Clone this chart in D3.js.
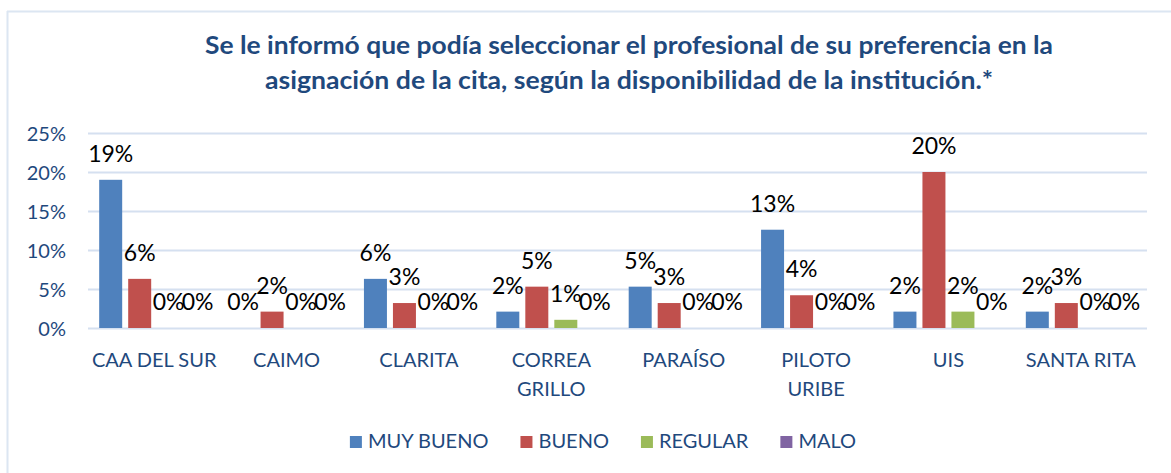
<!DOCTYPE html>
<html>
<head>
<meta charset="utf-8">
<script src="https://cdn.jsdelivr.net/npm/d3@7"></script>
<style>
  body { margin: 0; background: #fff; }
  text { font-family: Lato, "Open Sans", sans-serif; }
</style>
</head>
<body>
<script>
var categories = ['CAA DEL SUR', 'CAIMO', 'CLARITA', 'CORREA GRILLO', 'PARAÍSO', 'PILOTO URIBE', 'UIS', 'SANTA RITA']
var categoryLines = [['CAA DEL SUR'], ['CAIMO'], ['CLARITA'], ['CORREA', 'GRILLO'], ['PARAÍSO'], ['PILOTO', 'URIBE'], ['UIS'], ['SANTA RITA']]
var series = ['MUY BUENO', 'BUENO', 'REGULAR', 'MALO']
var muyBueno = [0.19, 0, 0.063, 0.021, 0.053, 0.126, 0.021, 0.021]
var bueno = [0.063, 0.021, 0.032, 0.053, 0.032, 0.042, 0.20, 0.032]
var regular = [0, 0, 0, 0.0105, 0, 0, 0.021, 0]
var malo = [0, 0, 0, 0, 0, 0, 0, 0]
var yTicks = [0, 0.05, 0.10, 0.15, 0.20, 0.25]
var colors = ['#4F81BD', '#C0504D', '#9BBB59', '#8064A2']
var title = ['Se le informó que podía seleccionar el profesional de su preferencia en la',
  'asignación de la cita, según la disponibilidad de la institución.*']
var titleWidths = [848, 728]

var w = 1171
var h = 473
var values = [muyBueno, bueno, regular, malo]

var svg = d3.select('body')
            .append('svg')
            .attr('width', w)
            .attr('height', h)

// chart area border (only top and left visible)
svg.append('line').attr('x1', 7).attr('x2', w).attr('y1', 11.5).attr('y2', 11.5)
  .attr('stroke', '#DCE6F2').attr('stroke-width', 2)
svg.append('line').attr('x1', 7.5).attr('x2', 7.5).attr('y1', 11).attr('y2', h)
  .attr('stroke', '#DCE6F2').attr('stroke-width', 2)

// TITLE
svg.selectAll('.title')
  .data(title)
  .enter()
    .append('text')
    .attr('x', 629)
    .attr('y', function (d, i) { return 54 + i * 35 })
    .attr('text-anchor', 'middle')
    .attr('font-size', 24)
    .attr('font-weight', 'bold')
    .attr('fill', '#1F497D')
    .attr('textLength', function (d, i) { return titleWidths[i] })
    .attr('lengthAdjust', 'spacingAndGlyphs')
    .text(function (d) { return d })

var x = d3.scaleBand()
        .domain(categories)
        .range([88, 1147])

var xs = d3.scaleBand()
        .domain(series)
        .range([0, x.bandwidth()])
        .paddingInner(0.207)
        .paddingOuter(0.386)

var y = d3.scaleLinear()
        .domain([0, 0.25])
        .range([328, 133])

// GRIDLINES
svg.selectAll('.grid')
  .data(yTicks)
  .enter()
    .append('line')
    .attr('x1', 88)
    .attr('x2', 1147)
    .attr('y1', function (d) { return Math.round(y(d)) + 0.5 })
    .attr('y2', function (d) { return Math.round(y(d)) + 0.5 })
    .attr('stroke', '#D5E0F0')
    .attr('stroke-width', 2)

// Y AXIS LABELS
var yAxis = svg.append('g')
  .attr('transform', 'translate(66,0)')
  .call(d3.axisLeft(y).tickValues(yTicks).tickFormat(d3.format('.0%')).tickSize(0).tickPadding(0))
yAxis.select('.domain').remove()
yAxis.selectAll('text')
  .attr('font-family', 'Lato, sans-serif')
  .attr('font-size', 20)
  .attr('fill', '#1F497D')
  .attr('dy', '0.35em')

// BARS
var groups = svg.selectAll('.series')
  .data(values)
  .enter()
    .append('g')
    .attr('fill', function (d, i) { return colors[i] })

groups.each(function (vals, si) {
  var g = d3.select(this)
  g.selectAll('rect')
    .data(vals)
    .enter()
      .append('rect')
      .attr('x', function (d, i) { return x(categories[i]) + xs(series[si]) })
      .attr('y', function (d) { return y(d) })
      .attr('width', xs.bandwidth())
      .attr('height', function (d) { return y(0) - y(d) })
  g.selectAll('.bar-label')
    .data(vals)
    .enter()
      .append('text')
      .attr('x', function (d, i) { return x(categories[i]) + xs(series[si]) + xs.bandwidth() / 2 })
      .attr('y', function (d) { return y(d) - 18 })
      .attr('text-anchor', 'middle')
      .attr('font-size', 23)
      .attr('fill', '#000')
      .text(function (d) { return Math.round(d * 100) + '%' })
})

// CATEGORY LABELS
categoryLines.forEach(function (lines, i) {
  svg.append('text')
    .attr('x', x(categories[i]) + x.bandwidth() / 2)
    .attr('text-anchor', 'middle')
    .attr('font-size', 20)
    .attr('fill', '#1F497D')
    .selectAll('tspan')
    .data(lines)
    .enter()
      .append('tspan')
      .attr('x', x(categories[i]) + x.bandwidth() / 2)
      .attr('y', function (d, j) { return 367 + j * 29 })
      .text(function (d) { return d })
})

// LEGEND
var legend = svg.append('g')
var lx = 0
series.forEach(function (s, i) {
  var item = legend.append('g').attr('transform', 'translate(' + lx + ',0)')
  item.append('rect').attr('x', 0).attr('y', 436).attr('width', 12).attr('height', 12).attr('fill', colors[i])
  var t = item.append('text').attr('x', 18).attr('y', 448).attr('font-size', 20).attr('fill', '#1F497D').text(s)
  lx += 18 + t.node().getComputedTextLength() + 32
})
var lw = lx - 32
legend.attr('transform', 'translate(' + (603 - lw / 2) + ',0)')
</script>
</body>
</html>
